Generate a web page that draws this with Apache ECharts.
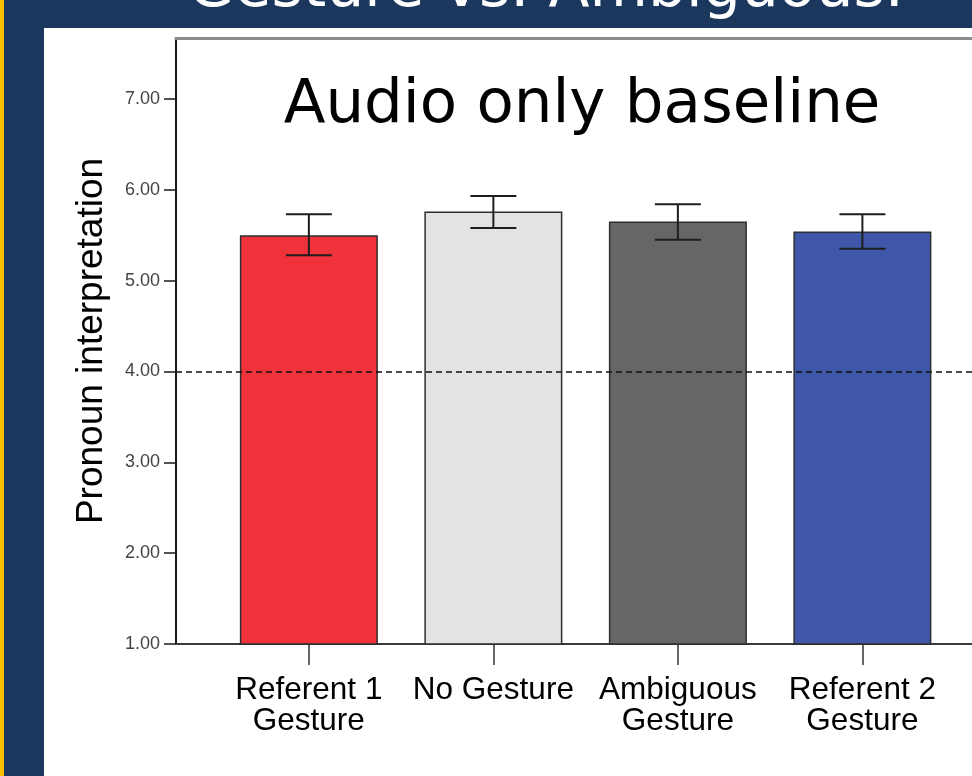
<!DOCTYPE html>
<html>
<head>
<meta charset="utf-8">
<script src="https://cdn.jsdelivr.net/npm/echarts@6/dist/echarts.min.js"></script>
<style>
  html, body { margin: 0; padding: 0; background: #1b375e; }
  #chart { width: 972px; height: 776px; }
</style>
</head>
<body>
<div id="chart"></div>
<script>
// Pronoun interpretation by gesture condition (audio-only baseline), mean ± error
const categories = ['Referent 1\nGesture', 'No Gesture', 'Ambiguous\nGesture', 'Referent 2\nGesture'];
const means = [5.50, 5.76, 5.65, 5.54];
const errLower = [5.28, 5.58, 5.45, 5.35];
const errUpper = [5.73, 5.93, 5.84, 5.73];
const yTicks = [1, 2, 3, 4, 5, 6, 7];
const baselineValue = 4;

const barColors = ['#f0323a', '#e3e3e3', '#666666', '#3f57a8'];
const positions = categories.map((_, i) => i);

const chart = echarts.init(document.getElementById('chart'), null, { renderer: 'canvas' });

const option = {
  backgroundColor: '#1b375e',
  animation: false,
  graphic: [
    { type: 'rect', z: -1, shape: { x: 0, y: 0, width: 4, height: 776 }, style: { fill: '#ffc000' } },
    { type: 'rect', z: -1, shape: { x: 44, y: 28, width: 928, height: 748 }, style: { fill: '#ffffff' } },
    {
      type: 'text', z: 10, x: 188, y: -10,
      style: {
        text: 'Gesture vs. Ambiguous.', fill: '#ffffff',
        font: '60px "DejaVu Sans"', textAlign: 'left', textVerticalAlign: 'middle'
      }
    },
    {
      type: 'text', z: 10, x: 582, y: 106,
      style: {
        text: 'Audio only baseline', fill: '#000000',
        font: '61px "DejaVu Sans"', textAlign: 'center', textVerticalAlign: 'middle'
      }
    }
  ],
  grid: { left: 176, top: 38, right: 0, bottom: 132, containLabel: false },
  xAxis: [
    {
      type: 'value', position: 'bottom',
      min: -0.72, max: 3.594,
      splitLine: { show: false },
      axisLine: { show: true, onZero: false, lineStyle: { color: '#3a3a3a', width: 2 } },
      axisTick: { show: true, customValues: positions, length: 21, lineStyle: { color: '#333', width: 1.5 } },
      axisLabel: {
        show: true, customValues: positions, margin: 31,
        formatter: (v) => categories[Math.round(v)] || '',
        fontFamily: '"Liberation Sans", Arial, sans-serif', fontSize: 31.5, lineHeight: 31,
        color: '#000', align: 'center'
      }
    },
    {
      type: 'value', position: 'top',
      min: -0.72, max: 3.594,
      splitLine: { show: false },
      axisLine: { show: true, onZero: false, lineStyle: { color: '#8c8c8c', width: 3 } },
      axisTick: { show: false }, axisLabel: { show: false }
    }
  ],
  yAxis: {
    type: 'value', min: 1, max: 7.67, interval: 1,
    name: 'Pronoun interpretation', nameLocation: 'middle', nameGap: 66,
    nameTextStyle: { fontFamily: '"Liberation Sans", Arial, sans-serif', fontSize: 37, color: '#000' },
    splitLine: { show: false },
    axisLine: { show: true, onZero: false, lineStyle: { color: '#1a1a1a', width: 2 } },
    axisTick: { show: true, customValues: yTicks, length: 12, lineStyle: { color: '#1a1a1a', width: 1.5 } },
    axisLabel: {
      customValues: yTicks, margin: 16,
      formatter: (v) => v.toFixed(2),
      fontFamily: '"Liberation Sans", Arial, sans-serif', fontSize: 18, color: '#444'
    }
  },
  series: [
    {
      type: 'bar', xAxisIndex: 0, yAxisIndex: 0,
      barWidth: 138,
      data: means.map((m, i) => ({
        value: [positions[i], m],
        itemStyle: { color: barColors[i], borderColor: '#2e2e2e', borderWidth: 1.5 }
      })),
      markLine: {
        silent: true, symbol: ['none', 'none'],
        label: { show: false },
        lineStyle: { color: '#111', width: 1.6, type: [6, 4] },
        data: [{ yAxis: baselineValue }]
      },
      z: 2
    },
    {
      type: 'custom', xAxisIndex: 0, yAxisIndex: 0,
      data: positions.map((p, i) => [p, errLower[i], errUpper[i]]),
      encode: { x: 0, y: [1, 2] },
      renderItem: function (params, api) {
        const x = api.value(0);
        const lo = api.coord([x, api.value(1)]);
        const hi = api.coord([x, api.value(2)]);
        const half = 23;
        const style = { stroke: '#1e1e1e', lineWidth: 2 };
        return {
          type: 'group',
          children: [
            { type: 'line', shape: { x1: lo[0], y1: lo[1], x2: hi[0], y2: hi[1] }, style },
            { type: 'line', shape: { x1: hi[0] - half, y1: hi[1], x2: hi[0] + half, y2: hi[1] }, style },
            { type: 'line', shape: { x1: lo[0] - half, y1: lo[1], x2: lo[0] + half, y2: lo[1] }, style }
          ]
        };
      },
      z: 5
    }
  ]
};

chart.setOption(option);
</script>
</body>
</html>
